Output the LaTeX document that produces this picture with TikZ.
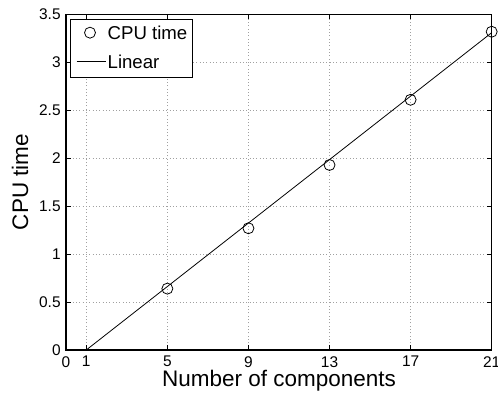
\documentclass[tikz,border=0pt]{standalone}
\usepackage{fontspec}
\setmainfont{Liberation Sans}
\usetikzlibrary{positioning}
\definecolor{gridcol}{RGB}{160,160,160}

\begin{document}
\begin{tikzpicture}[x=0.4054cm, y=1.9172cm,
  tk/.style={line width=0.5pt},
  grd/.style={gridcol, line width=0.4pt, dash pattern=on 0.5pt off 1.4pt},
  mk/.style={circle, draw, line width=0.45pt, inner sep=0pt, minimum size=0.22cm},
  ticklbl/.style={font=\fontsize{8.8}{10}\selectfont, inner sep=0pt},
  axlbl/.style={font=\fontsize{12.8}{15}\selectfont, inner sep=0pt},
  leg/.style={font=\fontsize{10.6}{12}\selectfont, inner sep=0pt},
]
\useasboundingbox (-3.256,-0.4903) rectangle (21.312,3.651);

% grid
\foreach \gx in {1,5,9,13,17} \draw[grd] (\gx,0) -- (\gx,3.5);
\foreach \gy in {0.5,1,1.5,2,2.5,3} \draw[grd] (0,\gy) -- (21,\gy);

% ticks, pointing inwards
\foreach \gx in {0,1,5,9,13,17,21} {
  \draw[tk] (\gx,0) -- ++(0cm,0.09cm);
  \draw[tk] (\gx,3.5) -- ++(0cm,-0.09cm);
}
\foreach \gy in {0,0.5,1,1.5,2,2.5,3,3.5} {
  \draw[tk] (0,\gy) -- ++(0.09cm,0cm);
  \draw[tk] (21,\gy) -- ++(-0.09cm,0cm);
}

% tick labels
\foreach \gx in {0,1,5,9,13,17,21}
  \node[ticklbl, anchor=north] (tx\gx) at (\gx,-0.0626) {\gx};
\foreach \t [count=\i] in {0,0.5,1,1.5,2,2.5,3,3.5}
  \node[ticklbl, anchor=east] (ty\i) at (-0.247,\t) {\t};

% axes box
\draw[line width=0.6pt] (0,0) rectangle (21,3.5);

% fitted line and measured points
\coordinate (l0) at (1,0);
\coordinate (l1) at (21,3.31);
\draw[line width=0.45pt] (l0) -- (l1);
\foreach \n/\v in {5/0.64,9/1.27,13/1.93,17/2.61,21/3.32}
  \node[mk] (p\n) at (\n,\v) {};

% legend
\node[draw, fill=white, line width=0.5pt, inner sep=0pt, anchor=north west,
      minimum width=2.44cm, minimum height=1.154cm] (legbox) at (0.212,3.453) {};
\node[mk] (legmk) at (1.184,3.310) {};
\node[leg, anchor=west] (legcpu) at (2.037,3.310) {CPU time};
\coordinate (lega) at (0.528,3.007);
\coordinate (legb) at (1.959,3.007);
\draw[line width=0.45pt] (lega) -- (legb);
\node[leg, anchor=west] (leglin) at (2.037,3.007) {Linear};

% axis labels
\node[axlbl] (xlab) at (10.51,-0.323) {Number of components};
\node[axlbl, rotate=90] (ylab) at (-2.269,1.753) {CPU time};
\end{tikzpicture}
\end{document}
